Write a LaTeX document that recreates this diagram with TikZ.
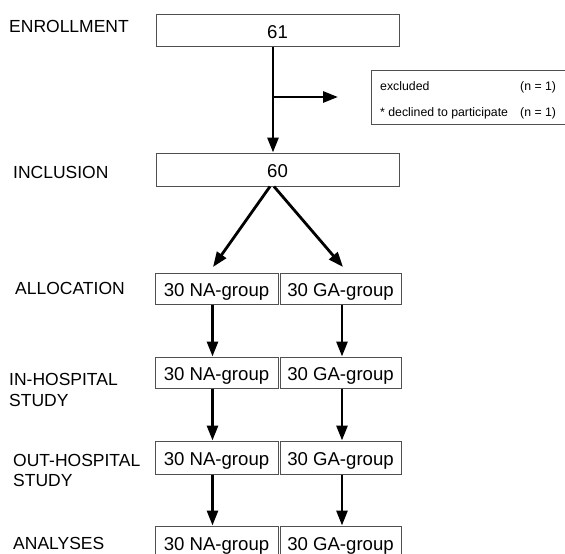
\documentclass[tikz,border=0pt]{standalone}
\usepackage{fontspec}
\setmainfont{Liberation Sans}
\usetikzlibrary{arrows.meta}
\definecolor{boxgray}{RGB}{80,80,80}
\begin{document}
\begin{tikzpicture}[x=1pt,y=-1pt,
  box/.style={draw=boxgray, line width=1pt, rectangle, inner sep=0pt,
    text height=16pt, text depth=0pt, font=\fontsize{18.6}{20}\selectfont},
  grp/.style={box, minimum height=31pt},
  lbl/.style={anchor=west, inner sep=0pt, align=left, font=\fontsize{17.5}{20.5}\selectfont},
  small/.style={anchor=base west, inner sep=0pt, font=\fontsize{12.3}{14}\selectfont},
  arr/.style={line width=2.8pt, -{Triangle[length=15pt,width=11pt]}}]
\useasboundingbox (0,0) rectangle (565,554);
% labels
\node[lbl] (l1) at (9,26) {ENROLLMENT};
\node[lbl] (l2) at (13,172) {INCLUSION};
\node[lbl] (l3) at (15,288) {ALLOCATION};
\node[lbl] (l4) at (9,390) {IN-HOSPITAL\\STUDY};
\node[lbl] (l5) at (13,470.5) {OUT-HOSPITAL\\STUDY};
\node[lbl] (l6) at (13,543) {ANALYSES};
% main boxes
\node[box, minimum width=243pt, minimum height=32pt] (b61) at (277.5,30) {61};
\node[box, minimum width=243pt, minimum height=33pt] (b60) at (277.5,169.5) {60};
% excluded box
\node[draw=boxgray, line width=1pt, rectangle, inner sep=0pt, minimum width=196pt, minimum height=54pt] (excl) at (469,97) {};
\node[small] (ex1) at (380,90) {excluded};
\node[small] (ex1n) at (520,90) {(n = 1)};
\node[small] (ex2) at (380,116) {* declined to participate};
\node[small] (ex2n) at (520,116) {(n = 1)};
% group boxes
\node[grp, minimum width=123pt] (na1) at (216.5,288.5) {30 NA-group};
\node[grp, minimum width=121pt] (ga1) at (340.5,288.5) {30 GA-group};
\node[grp, minimum width=123pt] (na2) at (216.5,372.5) {30 NA-group};
\node[grp, minimum width=121pt] (ga2) at (340.5,372.5) {30 GA-group};
\node[grp, minimum width=123pt, minimum height=33pt] (na3) at (216.5,457.5) {30 NA-group};
\node[grp, minimum width=121pt, minimum height=33pt] (ga3) at (340.5,457.5) {30 GA-group};
\node[grp, minimum width=123pt, minimum height=32pt] (na4) at (216.5,542) {30 NA-group};
\node[grp, minimum width=121pt, minimum height=32pt] (ga4) at (340.5,542) {30 GA-group};
% connectors
\coordinate (vx) at (273,0);
\coordinate (brk) at (273,97);
\coordinate (brkend) at (338,97);
\draw[arr] (b61.south -| vx) -- (b60.north -| vx);
\draw[arr] (brk) -- (brkend);
\coordinate (t1) at (213,267);
\coordinate (t2) at (343,267);
\draw[arr] ([xshift=-7.5pt]b60.south) -- (t1);
\draw[arr] ([xshift=-3.5pt]b60.south) -- (t2);
\coordinate (cna) at (212.5,0);
\coordinate (cga) at (342,0);
\draw[arr] (na1.south -| cna) -- (na2.north -| cna);
\draw[arr] (na2.south -| cna) -- (na3.north -| cna);
\draw[arr] (na3.south -| cna) -- (na4.north -| cna);
\draw[arr] (ga1.south -| cga) -- (ga2.north -| cga);
\draw[arr] (ga2.south -| cga) -- (ga3.north -| cga);
\draw[arr] (ga3.south -| cga) -- (ga4.north -| cga);
\end{tikzpicture}
\end{document}
